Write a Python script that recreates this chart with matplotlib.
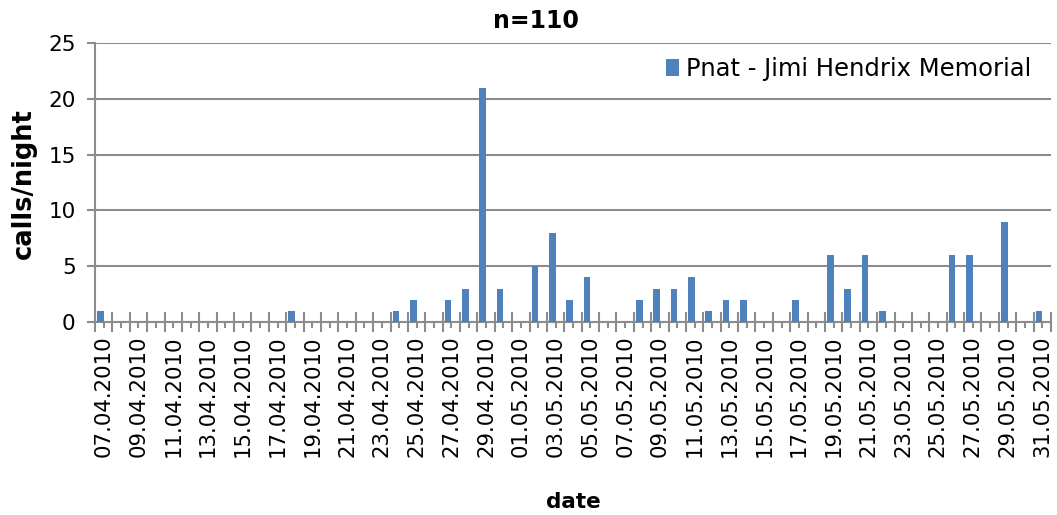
import numpy as np
import pandas as pd
import matplotlib
matplotlib.use("Agg")
import matplotlib.pyplot as plt
from matplotlib.ticker import FixedLocator

dates = pd.date_range("2010-04-07", "2010-05-31", freq="D")
date_labels = [d.strftime("%d.%m.%Y") for d in dates]

# calls per night, keyed by date label
call_dates = ["07.04.2010", "18.04.2010", "24.04.2010", "25.04.2010", "27.04.2010",
              "28.04.2010", "29.04.2010", "30.04.2010", "02.05.2010", "03.05.2010",
              "04.05.2010", "05.05.2010", "08.05.2010", "09.05.2010", "10.05.2010",
              "11.05.2010", "12.05.2010", "13.05.2010", "14.05.2010", "17.05.2010",
              "19.05.2010", "20.05.2010", "21.05.2010", "22.05.2010", "26.05.2010",
              "27.05.2010", "29.05.2010", "31.05.2010"]
call_counts = [1, 1, 1, 2, 2, 3, 21, 3, 5, 8, 2, 4, 2, 3, 3, 4, 1, 2, 2, 2,
               6, 3, 6, 1, 6, 6, 9, 1]

series_name = "Pnat - Jimi Hendrix Memorial"
title = "n=110"

lookup = dict(zip(call_dates, call_counts))
values = np.array([lookup.get(l, 0) for l in date_labels])
x = np.arange(len(date_labels))

fig = plt.figure(figsize=(10.57, 5.15), dpi=100)
ax = fig.add_axes([0.0899, 0.3748, 0.9044, 0.5417])

ax.bar(x - 0.19, values, width=0.38, color="#4F81BD", label=series_name, zorder=3)

ax.set_xlim(-0.5, len(x) - 0.5)
ax.set_ylim(0, 25)
ax.set_yticks([0, 5, 10, 15, 20, 25])
ax.yaxis.grid(True, color="#8C8C8C", linewidth=1.5, zorder=0)
ax.set_axisbelow(True)

for s in ["top", "right"]:
    ax.spines[s].set_visible(False)
for s in ["left", "bottom"]:
    ax.spines[s].set_color("#8C8C8C")
    ax.spines[s].set_linewidth(1.5)

# major ticks at category boundaries (crossing), minor at centers
ax.xaxis.set_major_locator(FixedLocator(np.arange(-0.5, len(x), 1.0)))
ax.xaxis.set_minor_locator(FixedLocator(x))
ax.set_xticklabels([], minor=False)
shown = [l if i % 2 == 0 else "" for i, l in enumerate(date_labels)]
ax.set_xticklabels(shown, minor=True, rotation=90, fontsize=15.3)
ax.tick_params(axis="x", which="major", direction="inout", length=15,
               width=1.5, color="#8C8C8C")
ax.tick_params(axis="x", which="minor", direction="out", length=4,
               width=1.5, color="#8C8C8C", pad=6)
ax.tick_params(axis="y", direction="out", length=6, width=1.5,
               color="#8C8C8C", labelsize=15.5, pad=8)

fig.text(0.507, 1 - 21 / 515, title, ha="center", va="center",
         fontsize=17, fontweight="bold")
ax.set_ylabel("calls/night", fontsize=18.5, fontweight="bold", va="center")
ax.yaxis.set_label_coords(-0.074, 0.495)
ax.set_xlabel("date", fontsize=15.5, fontweight="bold", va="center")
ax.xaxis.set_label_coords(0.5, -0.645)

ax.legend(loc="upper right", bbox_to_anchor=(0.99, 0.985), frameon=False,
          fontsize=17.5, handlelength=0.55, handleheight=0.7, handletextpad=0.3,
          borderaxespad=0)

fig.savefig("out.png", dpi=100)
